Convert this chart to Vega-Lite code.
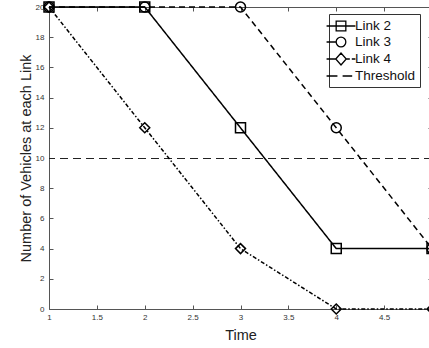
{
  "$schema": "https://vega.github.io/schema/vega-lite/v6.json",
  "width": 383,
  "height": 302,
  "padding": {"left": 49, "top": 7, "right": 0, "bottom": 39},
  "autosize": {"type": "none"},
  "config": {"view": {"stroke": null}, "font": "Liberation Sans"},
  "data": {
    "values": [
      {"time": 1, "vehicles": 20, "series": "Link 2"},
      {"time": 2, "vehicles": 20, "series": "Link 2"},
      {"time": 3, "vehicles": 12, "series": "Link 2"},
      {"time": 4, "vehicles": 4, "series": "Link 2"},
      {"time": 5, "vehicles": 4, "series": "Link 2"},
      {"time": 1, "vehicles": 20, "series": "Link 3"},
      {"time": 2, "vehicles": 20, "series": "Link 3"},
      {"time": 3, "vehicles": 20, "series": "Link 3"},
      {"time": 4, "vehicles": 12, "series": "Link 3"},
      {"time": 5, "vehicles": 4, "series": "Link 3"},
      {"time": 1, "vehicles": 20, "series": "Link 4"},
      {"time": 2, "vehicles": 12, "series": "Link 4"},
      {"time": 3, "vehicles": 4, "series": "Link 4"},
      {"time": 4, "vehicles": 0, "series": "Link 4"},
      {"time": 5, "vehicles": 0, "series": "Link 4"}
    ]
  },
  "resolve": {
    "scale": {"shape": "independent"},
    "axis": {"x": "independent", "y": "independent"}
  },
  "layer": [
    {
      "data": {"values": [{"threshold": 10}]},
      "mark": {"type": "rule", "stroke": "#222222", "strokeDash": [8, 5], "strokeWidth": 1, "yOffset": 0.5},
      "encoding": {
        "y": {"field": "threshold", "type": "quantitative", "scale": {"domain": [0, 20], "nice": false}, "axis": null}
      }
    },
    {
      "mark": {"type": "line", "stroke": "black", "strokeWidth": 1.5},
      "encoding": {
        "x": {"field": "time", "type": "quantitative", "scale": {"domain": [1, 5], "nice": false}, "axis": null},
        "y": {"field": "vehicles", "type": "quantitative", "scale": {"domain": [0, 20], "nice": false}, "axis": null},
        "strokeDash": {
          "field": "series", "type": "nominal",
          "scale": {"domain": ["Link 2", "Link 3", "Link 4"], "range": [[1, 0], [6, 4], [4, 2, 1.5, 2]]},
          "legend": null
        }
      }
    },
    {
      "mark": {"type": "point", "filled": false, "stroke": "black", "strokeWidth": 1.5, "size": 100, "opacity": 1},
      "encoding": {
        "x": {
          "field": "time", "type": "quantitative", "scale": {"domain": [1, 5], "nice": false},
          "axis": {
            "orient": "bottom", "title": "Time", "values": [1, 1.5, 2, 2.5, 3, 3.5, 4, 4.5], "format": "~g",
            "grid": false, "tickSize": -4, "labelPadding": 8, "labelFontSize": 8, "labelColor": "#333333",
            "domainColor": "#555555", "tickColor": "#555555", "titleFontSize": 14.5, "titleFontWeight": "normal",
            "titleColor": "#222222", "titlePadding": 7, "labelFlush": false
          }
        },
        "y": {
          "field": "vehicles", "type": "quantitative", "scale": {"domain": [0, 20], "nice": false},
          "axis": {
            "orient": "left", "title": "Number of Vehicles at each Link", "values": [0, 2, 4, 6, 8, 10, 12, 14, 16, 18, 20],
            "grid": false, "tickSize": -4, "labelPadding": 9, "labelFontSize": 8, "labelColor": "#333333",
            "domainColor": "#555555", "tickColor": "#555555", "titleFontSize": 14.5, "titleFontWeight": "normal",
            "titleColor": "#222222", "titleX": -23, "titleY": 151, "titleAlign": "center", "titleBaseline": "middle",
            "labelFlush": false
          }
        },
        "shape": {
          "field": "series", "type": "nominal",
          "scale": {"domain": ["Link 2", "Link 3", "Link 4"], "range": ["square", "circle", "diamond"]},
          "legend": null
        }
      }
    },
    {
      "mark": {"type": "point", "opacity": 0, "color": "black", "filled": false},
      "encoding": {
        "x": {"field": "time", "type": "quantitative", "scale": {"domain": [1, 5], "nice": false}, "axis": null},
        "y": {"field": "vehicles", "type": "quantitative", "scale": {"domain": [0, 20], "nice": false}, "axis": null},
        "shape": {
          "field": "series", "type": "nominal",
          "scale": {
            "domain": ["Link 2", "Link 3", "Link 4", "Threshold"],
            "range": [
              "M-2.06,0H2.06M-0.69,-0.69H0.69V0.69H-0.69Z",
              "M-2.06,0H-0.69M0.69,0A0.69,0.69 0 1,1 -0.69,0A0.69,0.69 0 1,1 0.69,0Z",
              "M-2.06,0H-0.75M0.75,0H1.26M1.54,0H2.06M-0.75,0L0,-0.86L0.75,0L0,0.86Z",
              "M-2.06,0H-0.51M0.23,0H1.6"
            ]
          },
          "legend": {
            "title": null, "orient": "none", "legendX": 280, "legendY": 7,
            "symbolSize": 196, "labelFontSize": 13.5, "labelColor": "#111111", "labelOffset": 6,
            "rowPadding": 0, "padding": 4, "strokeColor": "#333333", "fillColor": "white",
            "symbolStrokeColor": "black", "symbolFillColor": "transparent", "symbolStrokeWidth": 1.3,
            "symbolOpacity": 1,
            "encode": {
              "symbols": {
                "update": {
                  "stroke": {"value": "black"}, "fill": {"value": "transparent"},
                  "opacity": {"value": 1}, "strokeWidth": {"value": 1.3}
                }
              }
            }
          }
        }
      }
    },
    {
      "mark": {"type": "point", "opacity": 0},
      "encoding": {
        "x": {
          "field": "time", "type": "quantitative", "scale": {"domain": [1, 5], "nice": false},
          "axis": {
            "orient": "top", "title": null, "labels": false, "values": [1, 1.5, 2, 2.5, 3, 3.5, 4, 4.5, 5],
            "grid": false, "tickSize": -4, "domainColor": "#555555", "tickColor": "#555555"
          }
        },
        "y": {
          "field": "vehicles", "type": "quantitative", "scale": {"domain": [0, 20], "nice": false},
          "axis": {
            "orient": "right", "title": null, "labels": false, "values": [0, 2, 4, 6, 8, 10, 12, 14, 16, 18, 20],
            "grid": false, "tickSize": -4, "domainColor": "#555555", "tickColor": "#555555"
          }
        }
      }
    }
  ]
}
